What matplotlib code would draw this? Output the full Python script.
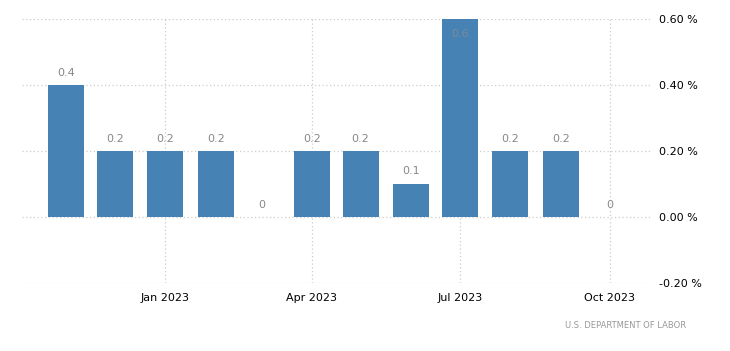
import datetime as dt
import matplotlib
matplotlib.use('Agg')
import matplotlib.pyplot as plt
import matplotlib.dates as mdates
from matplotlib.ticker import FixedLocator

# monthly values, Nov 2022 - Oct 2023
months = [dt.date(2022, 11, 1), dt.date(2022, 12, 1), dt.date(2023, 1, 1),
          dt.date(2023, 2, 1), dt.date(2023, 3, 1), dt.date(2023, 4, 1),
          dt.date(2023, 5, 1), dt.date(2023, 6, 1), dt.date(2023, 7, 1),
          dt.date(2023, 8, 1), dt.date(2023, 9, 1), dt.date(2023, 10, 1)]
values = [0.4, 0.2, 0.2, 0.2, 0.0, 0.2, 0.2, 0.1, 0.6, 0.2, 0.2, 0.0]
labels = ['0.4', '0.2', '0.2', '0.2', '0', '0.2', '0.2', '0.1', '0.6', '0.2', '0.2', '0']

x_ticks = [dt.date(2023, 1, 1), dt.date(2023, 4, 1), dt.date(2023, 7, 1), dt.date(2023, 10, 1)]
y_ticks = [-0.2, 0.0, 0.2, 0.4, 0.6]

W, H = 730, 351
fig = plt.figure(figsize=(W / 100, H / 100), dpi=100)
ax = fig.add_axes([22 / W, (H - 283) / H, (652 - 22) / W, (283 - 19) / H])

ax.bar(months, values, width=22, color='#4682b4', zorder=2)

for m, v, lab in zip(months, values, labels):
    if v >= 0.55:
        ax.annotate(lab, (mdates.date2num(m), v), xytext=(0, -11), textcoords='offset points',
                    ha='center', va='center', fontsize=8, color='#7a8a9a', zorder=3)
    else:
        ax.annotate(lab, (mdates.date2num(m), v), xytext=(0, 9), textcoords='offset points',
                    ha='center', va='center', fontsize=8, color='#888888', zorder=3)

ax.set_xlim(dt.date(2022, 10, 5), dt.date(2023, 10, 27))
ax.set_ylim(-0.2, 0.6)

ax.xaxis.set_major_locator(FixedLocator(mdates.date2num(x_ticks)))
ax.xaxis.set_major_formatter(mdates.DateFormatter('%b %Y'))
ax.yaxis.set_major_locator(FixedLocator(y_ticks))
ax.yaxis.set_major_formatter(plt.FuncFormatter(lambda v, p: f'{v:.2f} %'))
ax.yaxis.tick_right()

ax.tick_params(axis='both', length=0, labelsize=8, colors='black')
ax.tick_params(axis='x', pad=7)
ax.tick_params(axis='y', pad=5)

ax.grid(True, color='#cccccc', linestyle=(0, (1, 2)), linewidth=0.9, zorder=0)
for s in ax.spines.values():
    s.set_visible(False)

fig.text(686 / W, 1 - 325 / H, 'U.S. DEPARTMENT OF LABOR', ha='right', va='center',
         fontsize=6, color='#999999')

fig.savefig('out.png', dpi=100)
